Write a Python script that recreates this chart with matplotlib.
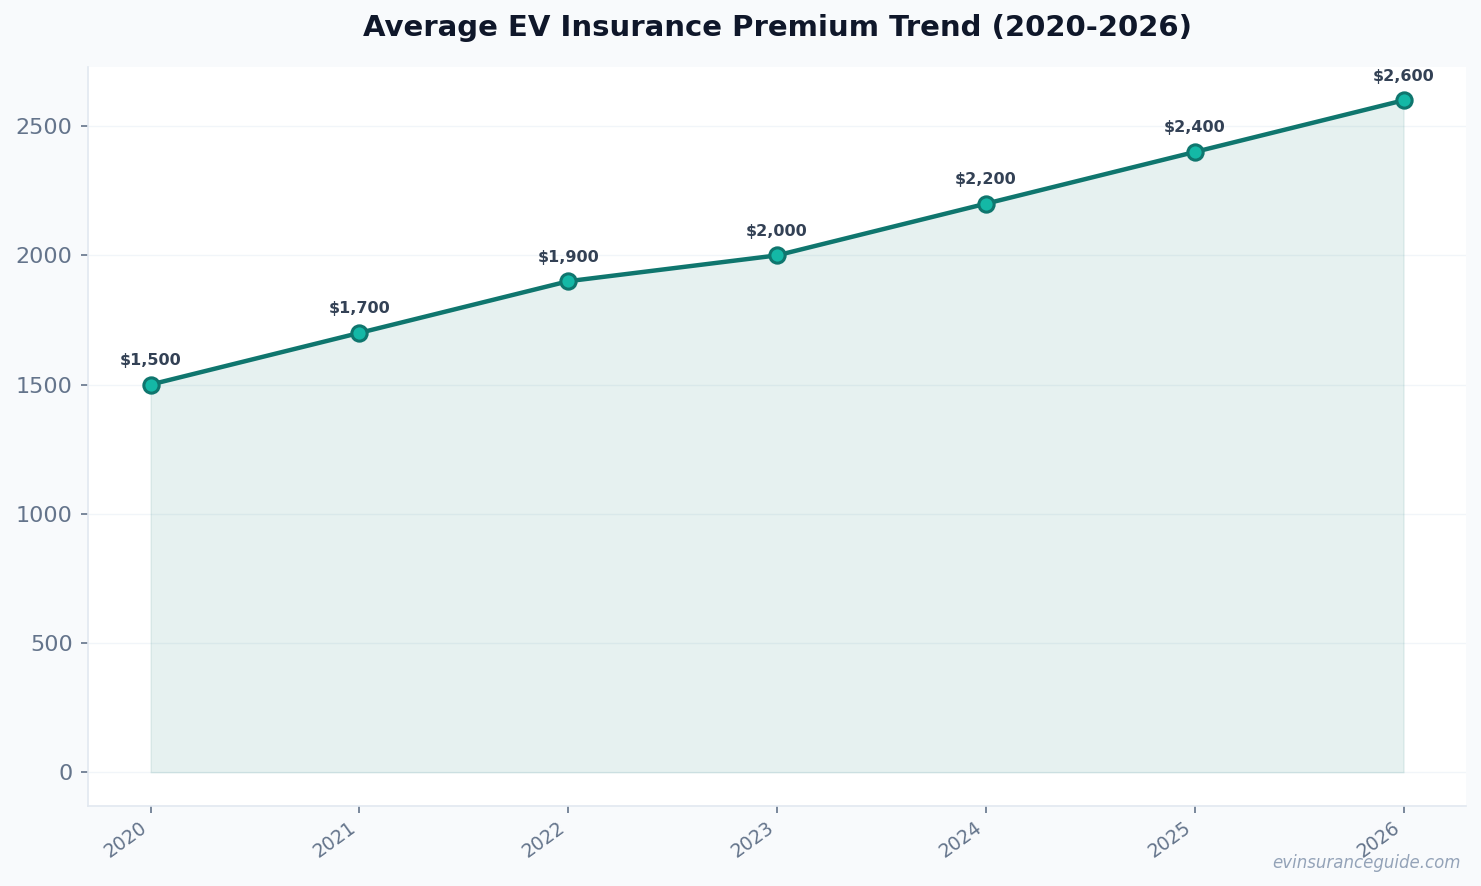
import matplotlib
matplotlib.use("Agg")
import matplotlib.pyplot as plt

years = [2020, 2021, 2022, 2023, 2024, 2025, 2026]
premiums = [1500, 1700, 1900, 2000, 2200, 2400, 2600]
labels = ["$1,500", "$1,700", "$1,900", "$2,000", "$2,200", "$2,400", "$2,600"]

fig = plt.figure(figsize=(14.81, 8.86), dpi=100, facecolor="#f8fafc")
ax = fig.add_axes([0.0594, 0.0905, 0.9306, 0.8342])
ax.set_facecolor("white")

ax.fill_between(years, premiums, 0, color="#0f766e", alpha=0.1)
ax.plot(years, premiums, color="#0f766e", linewidth=3.2, marker="o", markersize=11,
        markerfacecolor="#14b8a6", markeredgecolor="#0f766e", markeredgewidth=2.2, zorder=3)

for x, y, t in zip(years, premiums, labels):
    ax.annotate(t, (x, y), xytext=(0, 12), textcoords="offset points", ha="center",
                va="bottom", fontsize=11.5, fontweight="bold", color="#334155")

ax.set_title("Average EV Insurance Premium Trend (2020-2026)", fontsize=21, fontweight="bold",
             color="#0f172a", pad=22)
ax.grid(axis="y", color="#f1f5f9", linewidth=1)
ax.set_axisbelow(True)
for s in ["top", "right"]:
    ax.spines[s].set_visible(False)
for s in ["left", "bottom"]:
    ax.spines[s].set_color("#e2e8f0")
    ax.spines[s].set_linewidth(1.2)

ax.set_xticks(years)
ax.set_xticklabels([str(y) for y in years], rotation=36, ha="right")
ax.tick_params(axis="x", colors="#64748b", labelsize=13.5, length=5, width=1.2)
ax.tick_params(axis="y", colors="#64748b", labelsize=16, length=5, width=1.2, pad=6)
for lab in ax.get_xticklabels() + ax.get_yticklabels():
    lab.set_color("#64748b")

fig.text(0.986, 0.016, "evinsuranceguide.com", ha="right", va="bottom", fontsize=12,
         style="italic", color="#94a3b8")

fig.savefig("out.png", dpi=100, facecolor=fig.get_facecolor())
